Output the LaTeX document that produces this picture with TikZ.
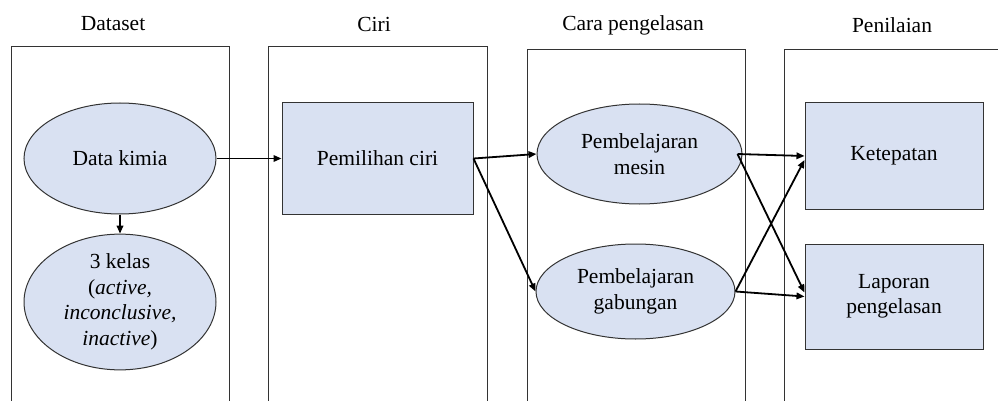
\documentclass[tikz,border=0pt]{standalone}
\usepackage{fontspec}
\setmainfont{Liberation Serif}
\newfontfamily\tnr{Liberation Serif}
\usetikzlibrary{shapes.geometric,arrows.meta}
\definecolor{fillblue}{HTML}{D9E1F2}
\definecolor{edgegray}{HTML}{333333}
\tikzset{
  lane/.style={draw=edgegray, line width=1pt},
  ttl/.style={font=\tnr\fontsize{21.5}{25}\selectfont, inner sep=0pt},
  ell/.style={ellipse, draw=edgegray, fill=fillblue, line width=1pt, inner sep=0pt, align=center, font=\tnr\fontsize{21.5}{25.5}\selectfont},
  box/.style={rectangle, draw=edgegray, fill=fillblue, line width=1pt, inner sep=0pt, align=center, font=\tnr\fontsize{21.5}{25.5}\selectfont},
  conn/.style={draw=black, line width=1.8pt, -{Triangle[length=8pt,width=6.5pt]}}
}
\begin{document}
\begin{tikzpicture}[x=1pt,y=-1pt]
\useasboundingbox (0,0) rectangle (998,401);
% lanes (open at bottom)
\draw[lane] (11,401) |- (229,47) -- (229,401);
\draw[lane] (268,401) |- (487,47) -- (487,401);
\draw[lane] (527,401) |- (745,50) -- (745,401);
\draw[lane] (784,401) |- (998,50);
% titles
\node[ttl] (t1) at (113,24) {Dataset};
\node[ttl] (t2) at (374,24) {Ciri};
\node[ttl] (t3) at (633,25) {Cara pengelasan};
\node[ttl] (t4) at (892,25) {Penilaian};
% nodes
\node[ell, minimum width=192pt, minimum height=111pt] (dk) at (120,158.5) {Data kimia};
\node[ell, minimum width=192pt, minimum height=110pt] (kl) at (120,302) {3 kelas\\(\textit{active,}\\\textit{inconclusive,}\\\textit{inactive})};
\node[box, minimum width=191pt, minimum height=111pt] (pc) at (377.5,158.5) {Pemilihan ciri};
\node[ell, minimum width=205pt, minimum height=100pt] (pm) at (639.5,154) {Pembelajaran\\mesin};
\node[ell, minimum width=199pt, minimum height=95pt] (pg) at (635.5,291.5) {Pembelajaran\\gabungan};
\node[box, minimum width=178pt, minimum height=106pt] (kt) at (894,156) {Ketepatan};
\node[box, minimum width=178pt, minimum height=105pt] (lp) at (894,296.5) {Laporan\\pengelasan};
% connectors
\draw[conn] (dk.south) -- (kl.north);
\draw[conn] (dk.east) -- (pc.west);
\draw[conn] (pc.east) -- (pm.west);
\draw[conn] (pc.east) -- (pg.west);
\draw[conn] ([xshift=-5pt]pm.east) -- (kt.west);
\draw[conn] ([xshift=-5pt]pm.east) -- ([yshift=4pt]lp.west);
\draw[conn] (pg.east) -- ([yshift=-4pt]kt.west);
\draw[conn] (pg.east) -- (lp.west);
\end{tikzpicture}
\end{document}
